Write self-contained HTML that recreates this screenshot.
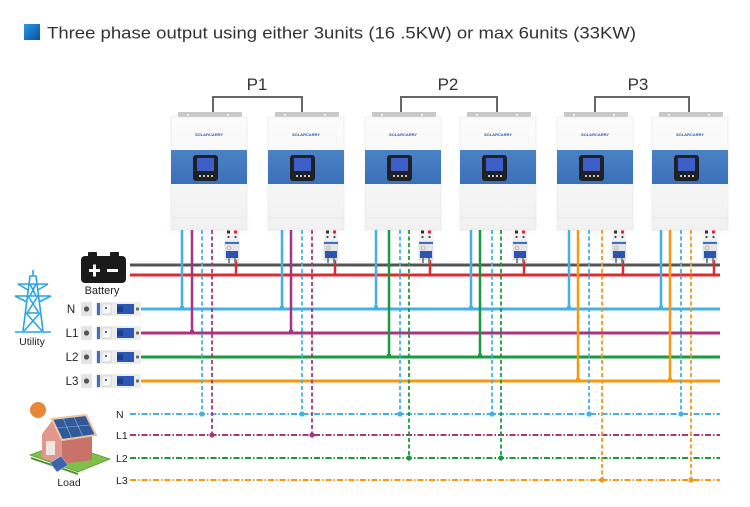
<!DOCTYPE html>
<html><head><meta charset="utf-8"><style>
html,body{margin:0;padding:0;background:#fff;}
svg{display:block;font-family:"Liberation Sans",Arial,sans-serif;}
</style></head><body>
<svg width="750" height="507" viewBox="0 0 750 507" xmlns="http://www.w3.org/2000/svg">
<defs>
<linearGradient id="tg" x1="0" y1="0" x2="1" y2="1"><stop offset="0" stop-color="#2a9be6"/><stop offset="1" stop-color="#0a4fa8"/></linearGradient>
<linearGradient id="body" x1="0" y1="0" x2="0" y2="1"><stop offset="0" stop-color="#fcfcfc"/><stop offset="1" stop-color="#f1f1f1"/></linearGradient>
<linearGradient id="band" x1="0" y1="0" x2="0" y2="1"><stop offset="0" stop-color="#4a82c6"/><stop offset="1" stop-color="#3a70b8"/></linearGradient>
<radialGradient id="shad" cx="0.5" cy="0.5" r="0.5"><stop offset="0" stop-color="#000" stop-opacity="0.04"/><stop offset="1" stop-color="#000" stop-opacity="0"/></radialGradient>
<g id="inv">
  <rect x="-10" y="205" width="96" height="40" fill="url(#shad)"/>
  <rect x="7" y="112" width="64" height="5" rx="1" fill="#c8c8c8"/>
  <rect x="16" y="114" width="2" height="1.5" fill="#fff"/>
  <rect x="56" y="114" width="2" height="1.5" fill="#fff"/>
  <rect x="0" y="117" width="76" height="113" fill="url(#body)" stroke="#e4e4e4" stroke-width="0.6"/>
  <text x="38" y="136" font-size="4" font-weight="bold" fill="#2b5aa6" text-anchor="middle">SOLARCARRY</text>
  <rect x="0" y="150" width="76" height="34" fill="url(#band)"/>
  <rect x="22" y="155" width="25" height="26" rx="3" fill="#1e2025"/>
  <rect x="26" y="158" width="17" height="13" fill="#3c5fc6"/>
  <circle cx="29" cy="176" r="1.1" fill="#d0d0d0"/><circle cx="33" cy="176" r="1.1" fill="#d0d0d0"/>
  <circle cx="37" cy="176" r="1.1" fill="#d0d0d0"/><circle cx="41" cy="176" r="1.1" fill="#d0d0d0"/>
  <line x1="0" y1="218" x2="76" y2="218" stroke="#e0e0e0" stroke-width="0.8"/>
</g>
<g id="brk">
  <rect x="0" y="230" width="14" height="10" fill="#f2f2f2"/>
  <rect x="2" y="230.5" width="3" height="3" fill="#333"/>
  <rect x="9" y="230.5" width="3" height="3" fill="#e02530"/>
  <circle cx="3.5" cy="237" r="1.1" fill="#444"/><circle cx="10.5" cy="237" r="1.1" fill="#444"/>
  <rect x="0" y="241" width="14" height="19" fill="#e6e6e6" stroke="#bbb" stroke-width="0.4"/>
  <rect x="0" y="242" width="14" height="2" fill="#3d6fc0"/>
  <circle cx="4" cy="248" r="2" fill="none" stroke="#999" stroke-width="0.6"/>
  <rect x="1" y="251" width="12" height="7" fill="#2c55b3"/>
  <rect x="3" y="258" width="2" height="5" fill="#888"/>
  <rect x="9" y="258" width="2" height="5" fill="#888"/>
</g>
<g id="lbrk">
  <rect x="0" y="0" width="11" height="14" fill="#e4e4e4"/>
  <circle cx="5.5" cy="7" r="2.6" fill="#555"/>
  <rect x="15" y="0" width="45" height="14" fill="#ececec"/>
  <rect x="16" y="1" width="3" height="12" fill="#3f6fc2"/>
  <rect x="21" y="2" width="9" height="10" fill="#f8f8f8" stroke="#aaa" stroke-width="0.4"/>
  <circle cx="25" cy="6" r="1" fill="#333"/>
  <rect x="36" y="2" width="17" height="10" fill="#2c58b8"/>
  <rect x="36" y="4" width="6" height="6" fill="#1b3f94"/>
  <circle cx="56.5" cy="7" r="1.6" fill="#666"/>
</g>
</defs>

<!-- title -->
<rect x="24" y="24" width="16" height="16" fill="url(#tg)"/>
<text x="47" y="38.5" font-size="17" fill="#333" textLength="589" lengthAdjust="spacingAndGlyphs">Three phase output using either 3units (16 .5KW) or max 6units (33KW)</text>

<!-- P labels and brackets -->
<g font-size="17" fill="#333" text-anchor="middle">
<text x="257" y="90">P1</text><text x="448" y="90">P2</text><text x="638" y="90">P3</text>
</g>
<g fill="none" stroke="#666" stroke-width="2">
<polyline points="213,113 213,97 302,97 302,113"/>
<polyline points="401,113 401,97 497,97 497,113"/>
<polyline points="595,113 595,97 689,97 689,113"/>
</g>

<!-- inverters -->
<use href="#inv" x="171"/><use href="#inv" x="268"/><use href="#inv" x="365"/>
<use href="#inv" x="460"/><use href="#inv" x="557"/><use href="#inv" x="652"/>

<!-- battery bus -->
<line x1="130" y1="265" x2="720" y2="265" stroke="#555" stroke-width="3"/>
<line x1="130" y1="275" x2="720" y2="275" stroke="#dd2a35" stroke-width="3"/>
<g stroke="#dd2a35" stroke-width="2.5">
<line x1="236" y1="258" x2="236" y2="275"/><line x1="335" y1="258" x2="335" y2="275"/>
<line x1="430" y1="258" x2="430" y2="275"/><line x1="524" y1="258" x2="524" y2="275"/>
<line x1="623" y1="258" x2="623" y2="275"/><line x1="714" y1="258" x2="714" y2="275"/>
</g>
<use href="#brk" x="225"/><use href="#brk" x="324"/><use href="#brk" x="419"/>
<use href="#brk" x="513"/><use href="#brk" x="612"/><use href="#brk" x="703"/>

<!-- utility buses -->
<line x1="138" y1="309" x2="720" y2="309" stroke="#44b0e6" stroke-width="3"/>
<line x1="138" y1="333" x2="720" y2="333" stroke="#a8357f" stroke-width="3"/>
<line x1="138" y1="357" x2="720" y2="357" stroke="#1a9a3e" stroke-width="3"/>
<line x1="138" y1="381" x2="720" y2="381" stroke="#f39a12" stroke-width="3"/>

<!-- solid verticals -->
<g stroke-width="2.5">
<line x1="182" y1="230" x2="182" y2="309" stroke="#44b0e6"/><line x1="192" y1="230" x2="192" y2="333" stroke="#a8357f"/>
<line x1="282" y1="230" x2="282" y2="309" stroke="#44b0e6"/><line x1="291" y1="230" x2="291" y2="333" stroke="#a8357f"/>
<line x1="376" y1="230" x2="376" y2="309" stroke="#44b0e6"/><line x1="389" y1="230" x2="389" y2="357" stroke="#1a9a3e"/>
<line x1="471" y1="230" x2="471" y2="309" stroke="#44b0e6"/><line x1="480" y1="230" x2="480" y2="357" stroke="#1a9a3e"/>
<line x1="569" y1="230" x2="569" y2="309" stroke="#44b0e6"/><line x1="578" y1="230" x2="578" y2="381" stroke="#f39a12"/>
<line x1="661" y1="230" x2="661" y2="309" stroke="#44b0e6"/><line x1="670" y1="230" x2="670" y2="381" stroke="#f39a12"/>
</g>
<g>
<rect x="180" y="306" width="4" height="4" fill="#44b0e6"/><rect x="190" y="330" width="4" height="4" fill="#a8357f"/>
<rect x="280" y="306" width="4" height="4" fill="#44b0e6"/><rect x="289" y="330" width="4" height="4" fill="#a8357f"/>
<rect x="374" y="306" width="4" height="4" fill="#44b0e6"/><rect x="387" y="354" width="4" height="4" fill="#1a9a3e"/>
<rect x="469" y="306" width="4" height="4" fill="#44b0e6"/><rect x="478" y="354" width="4" height="4" fill="#1a9a3e"/>
<rect x="567" y="306" width="4" height="4" fill="#44b0e6"/><rect x="576" y="378" width="4" height="4" fill="#f39a12"/>
<rect x="659" y="306" width="4" height="4" fill="#44b0e6"/><rect x="668" y="378" width="4" height="4" fill="#f39a12"/>
</g>

<!-- load buses -->
<g stroke-width="2" stroke-dasharray="6 2 1.5 2" fill="none">
<line x1="130" y1="414" x2="720" y2="414" stroke="#44b0e6"/>
<line x1="130" y1="435" x2="720" y2="435" stroke="#a8357f"/>
<line x1="130" y1="458" x2="720" y2="458" stroke="#1a9a3e"/>
<line x1="130" y1="480" x2="720" y2="480" stroke="#f39a12"/>
</g>

<!-- dashed verticals -->
<g stroke-width="1.8" stroke-dasharray="4 2.5" fill="none">
<line x1="202" y1="230" x2="202" y2="414" stroke="#44b0e6"/><line x1="212" y1="230" x2="212" y2="435" stroke="#a8357f"/>
<line x1="302" y1="230" x2="302" y2="414" stroke="#44b0e6"/><line x1="312" y1="230" x2="312" y2="435" stroke="#a8357f"/>
<line x1="400" y1="230" x2="400" y2="414" stroke="#44b0e6"/><line x1="409" y1="230" x2="409" y2="458" stroke="#1a9a3e"/>
<line x1="492" y1="230" x2="492" y2="414" stroke="#44b0e6"/><line x1="501" y1="230" x2="501" y2="458" stroke="#1a9a3e"/>
<line x1="589" y1="230" x2="589" y2="414" stroke="#44b0e6"/><line x1="602" y1="230" x2="602" y2="480" stroke="#f39a12"/>
<line x1="681" y1="230" x2="681" y2="414" stroke="#44b0e6"/><line x1="691" y1="230" x2="691" y2="480" stroke="#f39a12"/>
</g>
<g>
<circle cx="202" cy="414" r="2.6" fill="#44b0e6"/><circle cx="212" cy="435" r="2.6" fill="#a8357f"/>
<circle cx="302" cy="414" r="2.6" fill="#44b0e6"/><circle cx="312" cy="435" r="2.6" fill="#a8357f"/>
<circle cx="400" cy="414" r="2.6" fill="#44b0e6"/><circle cx="409" cy="458" r="2.6" fill="#1a9a3e"/>
<circle cx="492" cy="414" r="2.6" fill="#44b0e6"/><circle cx="501" cy="458" r="2.6" fill="#1a9a3e"/>
<circle cx="589" cy="414" r="2.6" fill="#44b0e6"/><circle cx="602" cy="480" r="2.6" fill="#f39a12"/>
<circle cx="681" cy="414" r="2.6" fill="#44b0e6"/><circle cx="691" cy="480" r="2.6" fill="#f39a12"/>
</g>

<!-- battery icon -->
<rect x="88" y="252" width="9" height="6" rx="1" fill="#1a1a1a"/>
<rect x="110" y="252" width="9" height="6" rx="1" fill="#1a1a1a"/>
<rect x="81" y="256" width="45" height="27" rx="4" fill="#1a1a1a"/>
<rect x="89" y="269" width="11" height="3" fill="#fff"/><rect x="93" y="264.5" width="3" height="12" fill="#fff"/>
<rect x="107" y="269" width="11" height="3" fill="#fff"/>
<text x="102" y="294" font-size="11" fill="#222" text-anchor="middle">Battery</text>

<!-- utility tower -->
<g stroke="#2aa4e2" stroke-width="1.6" fill="none" stroke-linejoin="round">
<polyline points="23,331 30,276 36,276 43,331"/>
<line x1="18" y1="284" x2="48" y2="284"/>
<line x1="15" y1="296" x2="51" y2="296"/>
<line x1="18" y1="284" x2="28" y2="290"/><line x1="48" y1="284" x2="38" y2="290"/>
<line x1="15" y1="296" x2="27" y2="302"/><line x1="51" y1="296" x2="39" y2="302"/>
<line x1="30" y1="284" x2="36" y2="296"/><line x1="36" y1="284" x2="30" y2="296"/>
<line x1="28" y1="296" x2="39" y2="313"/><line x1="38" y1="296" x2="27" y2="313"/>
<line x1="26" y1="313" x2="42" y2="331"/><line x1="40" y1="313" x2="24" y2="331"/>
<line x1="27" y1="313" x2="39" y2="313"/>
<line x1="33" y1="270" x2="33" y2="276"/>
<line x1="15" y1="332" x2="51" y2="332"/>
</g>
<text x="32" y="345" font-size="10.5" fill="#222" text-anchor="middle">Utility</text>

<!-- left breakers -->
<g font-size="11.5" fill="#222" text-anchor="middle">
<text x="71" y="313">N</text><text x="72" y="337">L1</text><text x="72" y="361">L2</text><text x="72" y="385">L3</text>
</g>
<use href="#lbrk" x="81" y="302"/><use href="#lbrk" x="81" y="326"/>
<use href="#lbrk" x="81" y="350"/><use href="#lbrk" x="81" y="374"/>

<!-- load labels -->
<g font-size="10.5" fill="#222">
<text x="116" y="418">N</text><text x="116" y="439">L1</text><text x="116" y="462">L2</text><text x="116" y="484">L3</text>
</g>

<!-- load house -->
<circle cx="38" cy="410" r="8" fill="#e8873a"/>
<polygon points="30,455 62,443 110,459 78,472" fill="#7fc04a" stroke="#5a9a30" stroke-width="0.8"/>
<polygon points="31,457 78,473 78,475 31,459" fill="#4f8e2c"/>
<polygon points="62,438 92,434 92,460 62,464" fill="#c9726a"/>
<polygon points="42,434 52,421 62,438 62,464 42,458" fill="#e2978c"/>
<rect x="46" y="441" width="9" height="14" fill="#f2e6e2"/>
<polygon points="52,419 86,415 96,435 62,440" fill="#2f5a9c" stroke="#f0c4a0" stroke-width="2"/>
<line x1="57" y1="428" x2="91" y2="425" stroke="#9cb6d6" stroke-width="0.6"/>
<line x1="63" y1="418" x2="72" y2="439" stroke="#9cb6d6" stroke-width="0.6"/>
<line x1="74" y1="417" x2="83" y2="437" stroke="#9cb6d6" stroke-width="0.6"/>
<polygon points="50,463 61,456 68,465 57,472" fill="#3a63b0" stroke="#cfd8ea" stroke-width="0.5"/>
<text x="69" y="486" font-size="10.5" fill="#222" text-anchor="middle">Load</text>
</svg>
</body></html>
